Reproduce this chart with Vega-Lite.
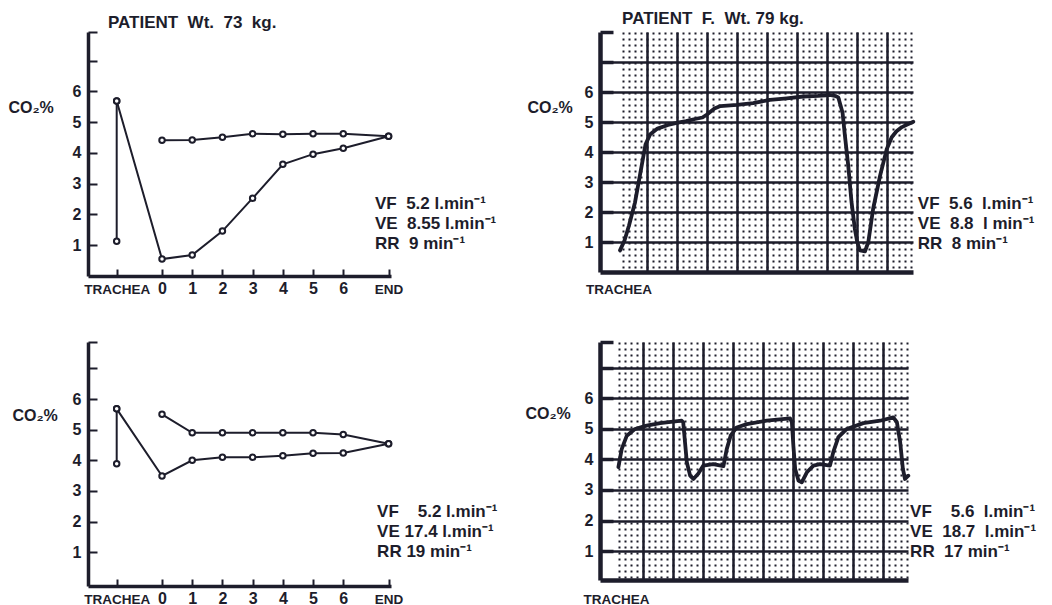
{
  "$schema": "https://vega.github.io/schema/vega-lite/v6.json",
  "background": "white",
  "padding": {"left": 8, "top": 9, "right": 0, "bottom": 0},
  "config": {
    "view": {"stroke": null},
    "font": "Liberation Sans",
    "axis": {"labelFont": "Liberation Sans", "labelFontWeight": "bold", "labelColor": "#1d1d2b", "domainColor": "#1d1d2b", "tickColor": "#1d1d2b", "gridColor": "#1d1d2b", "titleColor": "#1d1d2b", "titleFont": "Liberation Sans", "titleFontWeight": "bold", "labelOverlap": false},
    "text": {"font": "Liberation Sans", "fontWeight": "bold", "color": "#1d1d2b", "fontSize": 17}
  },
  "datasets": {
    "tl": [
      {"s": "trachea", "t": -1.5, "co2": 5.69},
      {"s": "trachea", "t": -1.5, "co2": 1.13},
      {"s": "lower", "t": -1.5, "co2": 5.69},
      {"s": "lower", "t": 0, "co2": 0.55},
      {"s": "lower", "t": 1, "co2": 0.68},
      {"s": "lower", "t": 2, "co2": 1.46},
      {"s": "lower", "t": 3, "co2": 2.53},
      {"s": "lower", "t": 4, "co2": 3.63},
      {"s": "lower", "t": 5, "co2": 3.96},
      {"s": "lower", "t": 6, "co2": 4.15},
      {"s": "lower", "t": 7.5, "co2": 4.54},
      {"s": "upper", "t": 0, "co2": 4.41},
      {"s": "upper", "t": 1, "co2": 4.42},
      {"s": "upper", "t": 2, "co2": 4.51},
      {"s": "upper", "t": 3, "co2": 4.62},
      {"s": "upper", "t": 4, "co2": 4.61},
      {"s": "upper", "t": 5, "co2": 4.62},
      {"s": "upper", "t": 6, "co2": 4.62},
      {"s": "upper", "t": 7.5, "co2": 4.54}
    ],
    "bl": [
      {"s": "trachea", "t": -1.5, "co2": 5.68},
      {"s": "trachea", "t": -1.5, "co2": 3.89},
      {"s": "lower", "t": -1.5, "co2": 5.68},
      {"s": "lower", "t": 0, "co2": 3.49},
      {"s": "lower", "t": 1, "co2": 4.0},
      {"s": "lower", "t": 2, "co2": 4.1},
      {"s": "lower", "t": 3, "co2": 4.1},
      {"s": "lower", "t": 4, "co2": 4.15},
      {"s": "lower", "t": 5, "co2": 4.23},
      {"s": "lower", "t": 6, "co2": 4.24},
      {"s": "lower", "t": 7.5, "co2": 4.54},
      {"s": "upper", "t": 0, "co2": 5.5},
      {"s": "upper", "t": 1, "co2": 4.9},
      {"s": "upper", "t": 2, "co2": 4.9},
      {"s": "upper", "t": 3, "co2": 4.9},
      {"s": "upper", "t": 4, "co2": 4.9},
      {"s": "upper", "t": 5, "co2": 4.9},
      {"s": "upper", "t": 6, "co2": 4.84},
      {"s": "upper", "t": 7.5, "co2": 4.54}
    ],
    "tr": [
      {"t": -0.9, "co2": 0.72}, {"t": -0.75, "co2": 1.05}, {"t": -0.6, "co2": 1.55}, {"t": -0.4, "co2": 2.32},
      {"t": -0.18, "co2": 3.53}, {"t": -0.05, "co2": 4.25}, {"t": 0.1, "co2": 4.58}, {"t": 0.35, "co2": 4.78},
      {"t": 0.7, "co2": 4.9}, {"t": 0.99, "co2": 4.97}, {"t": 1.3, "co2": 5.03}, {"t": 1.6, "co2": 5.1},
      {"t": 1.85, "co2": 5.15}, {"t": 2.0, "co2": 5.25}, {"t": 2.25, "co2": 5.45}, {"t": 2.45, "co2": 5.53},
      {"t": 3.0, "co2": 5.57}, {"t": 3.54, "co2": 5.63}, {"t": 4.1, "co2": 5.74}, {"t": 4.66, "co2": 5.79},
      {"t": 5.21, "co2": 5.85}, {"t": 5.7, "co2": 5.87}, {"t": 6.1, "co2": 5.9}, {"t": 6.3, "co2": 5.86},
      {"t": 6.38, "co2": 5.82}, {"t": 6.52, "co2": 5.32}, {"t": 6.6, "co2": 4.54}, {"t": 6.71, "co2": 3.55},
      {"t": 6.82, "co2": 2.33}, {"t": 6.93, "co2": 1.44}, {"t": 7.01, "co2": 1.0}, {"t": 7.1, "co2": 0.72},
      {"t": 7.27, "co2": 0.69}, {"t": 7.38, "co2": 1.0}, {"t": 7.54, "co2": 2.1}, {"t": 7.77, "co2": 3.2},
      {"t": 7.99, "co2": 4.08}, {"t": 8.16, "co2": 4.49}, {"t": 8.32, "co2": 4.69}, {"t": 8.5, "co2": 4.83},
      {"t": 8.66, "co2": 4.91}, {"t": 8.88, "co2": 5.01}
    ],
    "br": [
      {"t": -0.82, "co2": 3.75}, {"t": -0.71, "co2": 4.34}, {"t": -0.54, "co2": 4.78}, {"t": -0.27, "co2": 5.0},
      {"t": 0.12, "co2": 5.11}, {"t": 0.57, "co2": 5.19}, {"t": 1.29, "co2": 5.27}, {"t": 1.34, "co2": 5.22},
      {"t": 1.4, "co2": 4.56}, {"t": 1.46, "co2": 3.91}, {"t": 1.57, "co2": 3.47}, {"t": 1.68, "co2": 3.36},
      {"t": 1.84, "co2": 3.53}, {"t": 2.01, "co2": 3.8}, {"t": 2.34, "co2": 3.85}, {"t": 2.68, "co2": 3.78},
      {"t": 2.79, "co2": 4.34}, {"t": 2.92, "co2": 4.78}, {"t": 3.12, "co2": 5.05}, {"t": 3.46, "co2": 5.16},
      {"t": 4.12, "co2": 5.27}, {"t": 4.9, "co2": 5.35}, {"t": 4.96, "co2": 5.22}, {"t": 5.01, "co2": 4.45},
      {"t": 5.07, "co2": 3.69}, {"t": 5.18, "co2": 3.31}, {"t": 5.29, "co2": 3.25}, {"t": 5.46, "co2": 3.58},
      {"t": 5.68, "co2": 3.8}, {"t": 5.9, "co2": 3.85}, {"t": 6.23, "co2": 3.8}, {"t": 6.34, "co2": 4.24},
      {"t": 6.51, "co2": 4.73}, {"t": 6.79, "co2": 5.0}, {"t": 7.34, "co2": 5.19}, {"t": 7.9, "co2": 5.27},
      {"t": 8.34, "co2": 5.38}, {"t": 8.46, "co2": 5.22}, {"t": 8.57, "co2": 4.56}, {"t": 8.66, "co2": 3.69},
      {"t": 8.73, "co2": 3.36}, {"t": 8.84, "co2": 3.47}
    ]
  },
  "columns": 2,
  "spacing": {"row": 66, "column": 209},
  "bounds": "flush",
  "concat": [
    {
      "width": 303,
      "height": 244,
      "resolve": {"axis": {"x": "independent", "y": "independent"}},
      "layer": [
        {
          "data": {"name": "tl"},
          "mark": {"type": "line", "color": "#1d1d2b", "strokeWidth": 2, "point": {"filled": false, "fill": "white", "stroke": "#1d1d2b", "size": 30, "strokeWidth": 2}},
          "encoding": {
            "x": {"field": "t", "type": "quantitative", "scale": {"domain": [-2.45, 7.58], "nice": false, "zero": false},
              "axis": {"orient": "bottom", "values": [-1.5, 0, 1, 2, 3, 4, 5, 6, 7.5], "tickSize": -7, "tickWidth": 2, "domainWidth": 3.5, "grid": false, "labelOverlap": false,
                "labelExpr": "datum.value < -1 ? 'TRACHEA' : datum.value > 7 ? 'END' : datum.label",
                "labelFontSize": {"condition": {"test": "datum.value < -1 || datum.value > 7", "value": 13.5}, "value": 16},
                "labelBaseline": "alphabetic", "labelPadding": 24, "title": null}},
            "y": {"field": "co2", "type": "quantitative", "scale": {"domain": [0, 7.93], "nice": false},
              "axis": {"orient": "left", "values": [1, 2, 3, 4, 5, 6, 7, 7.93], "tickSize": -9, "tickWidth": 2, "domainWidth": 3.5, "grid": false, "labelOverlap": false,
                "labelExpr": "datum.value <= 6 ? datum.label : ''", "labelFontSize": 16, "labelPadding": 16,
                "title": "CO₂%", "titleAngle": 0, "titleAlign": "left", "titleBaseline": "middle", "titleX": -80, "titleY": 75, "titleFontSize": 16}},
            "detail": {"field": "s"}
          }
        },
        {
          "data": {"values": [{}]},
          "mark": {"type": "text", "align": "left", "baseline": "middle", "lineHeight": 20},
          "encoding": {
            "x": {"datum": 7.05, "type": "quantitative", "axis": {"orient": "bottom", "domain": false, "ticks": false, "labels": false, "grid": false, "title": null}},
            "y": {"datum": 2.33, "type": "quantitative", "axis": {"orient": "left", "domain": false, "ticks": false, "labels": false, "grid": false, "title": null}},
            "text": {"value": ["VF\u00a0\u00a05.2 l.min⁻¹", "VE\u00a0\u00a08.55 l.min⁻¹", "RR\u00a0\u00a09 min⁻¹"]}
          }
        },
        {
          "data": {"values": [{}]},
          "mark": {"type": "text", "align": "left", "baseline": "alphabetic"},
          "encoding": {
            "x": {"datum": -1.79, "type": "quantitative", "axis": {"orient": "bottom", "domain": false, "ticks": false, "labels": false, "grid": false, "title": null}},
            "y": {"datum": 8.06, "type": "quantitative", "axis": {"orient": "left", "domain": false, "ticks": false, "labels": false, "grid": false, "title": null}},
            "text": {"value": "PATIENT\u00a0\u00a0Wt.\u00a0\u00a073\u00a0\u00a0kg."}
          }
        }
      ]
    },
    {
      "width": 313,
      "height": 240,
      "resolve": {"axis": {"x": "independent", "y": "independent"}},
      "layer": [
        {
          "data": {"values": [{}]},
          "mark": {"type": "text", "align": "left", "baseline": "middle", "lineHeight": 20},
          "encoding": {
            "x": {"datum": 9.03, "type": "quantitative",
              "axis": {"orient": "bottom", "values": [-0.8, -0.6, -0.4, -0.2, 0, 0.2, 0.4, 0.6, 0.8, 1, 1.2, 1.4, 1.6, 1.8, 2, 2.2, 2.4, 2.6, 2.8, 3, 3.2, 3.4, 3.6, 3.8, 4, 4.2, 4.4, 4.6, 4.8, 5, 5.2, 5.4, 5.6, 5.8, 6, 6.2, 6.4, 6.6, 6.8, 7, 7.2, 7.4, 7.6, 7.8, 8, 8.2, 8.4, 8.6, 8.8],
                "grid": true, "gridDash": [2, 4], "gridWidth": 2, "domain": false, "ticks": false, "labels": false, "title": null}},
            "y": {"datum": 2.26, "type": "quantitative", "axis": {"orient": "left", "domain": false, "ticks": false, "labels": false, "grid": false, "title": null}},
            "text": {"value": ["VF\u00a0\u00a05.6\u00a0 l.min⁻¹", "VE\u00a0\u00a08.8\u00a0 l min⁻¹", "RR\u00a0\u00a08 min⁻¹"]}
          }
        },
        {
          "data": {"values": [{}]},
          "mark": {"type": "text", "align": "left", "baseline": "alphabetic"},
          "encoding": {
            "x": {"datum": -0.83, "type": "quantitative", "axis": {"orient": "bottom", "domain": false, "ticks": false, "labels": false, "grid": false, "title": null}},
            "y": {"datum": 8.27, "type": "quantitative", "axis": {"orient": "left", "domain": false, "ticks": false, "labels": false, "grid": false, "title": null}},
            "text": {"value": "PATIENT\u00a0\u00a0F.\u00a0\u00a0Wt. 79 kg."}
          }
        },
        {
          "data": {"name": "tr"},
          "mark": {"type": "line", "color": "#1d1d2b", "strokeWidth": 3.8, "strokeJoin": "round", "strokeCap": "round"},
          "encoding": {
            "x": {"field": "t", "type": "quantitative", "scale": {"domain": [-1.567, 8.87], "nice": false, "zero": false},
              "axis": {"orient": "bottom", "values": [-0.95, 0, 1, 2, 3, 4, 5, 6, 7, 8], "grid": true, "gridWidth": 2.5, "labelOverlap": false,
                "gridOpacity": {"condition": {"test": "datum.value < -0.5", "value": 0}, "value": 1},
                "ticks": false, "domainWidth": 4.5, "labelExpr": "datum.value < -0.5 ? 'TRACHEA' : ''",
                "labelFontSize": 13.5, "labelBaseline": "alphabetic", "labelPadding": 21, "title": null}},
            "y": {"field": "co2", "type": "quantitative", "scale": {"domain": [0, 8], "nice": false},
              "axis": {"orient": "left", "values": [1, 2, 3, 4, 5, 6, 7, 8], "grid": true, "gridWidth": 2.5, "labelOverlap": false,
                "gridOpacity": {"condition": {"test": "datum.value > 7.5", "value": 0}, "value": 1},
                "tickSize": -13, "tickWidth": 3.5, "domainWidth": 4.5,
                "labelExpr": "datum.value <= 6 ? datum.label : ''", "labelFontSize": 16, "labelPadding": 20,
                "title": "CO₂%", "titleAngle": 0, "titleAlign": "left", "titleBaseline": "middle", "titleX": -73, "titleY": 75, "titleFontSize": 16}}
          }
        }
      ]
    },
    {
      "width": 303,
      "height": 244,
      "resolve": {"axis": {"x": "independent", "y": "independent"}},
      "layer": [
        {
          "data": {"name": "bl"},
          "mark": {"type": "line", "color": "#1d1d2b", "strokeWidth": 2, "point": {"filled": false, "fill": "white", "stroke": "#1d1d2b", "size": 30, "strokeWidth": 2}},
          "encoding": {
            "x": {"field": "t", "type": "quantitative", "scale": {"domain": [-2.45, 7.58], "nice": false, "zero": false},
              "axis": {"orient": "bottom", "values": [-1.5, 0, 1, 2, 3, 4, 5, 6, 7.5], "tickSize": -7, "tickWidth": 2, "domainWidth": 3.5, "grid": false, "labelOverlap": false,
                "labelExpr": "datum.value < -1 ? 'TRACHEA' : datum.value > 7 ? 'END' : datum.label",
                "labelFontSize": {"condition": {"test": "datum.value < -1 || datum.value > 7", "value": 13.5}, "value": 16},
                "labelBaseline": "alphabetic", "labelPadding": 24, "title": null}},
            "y": {"field": "co2", "type": "quantitative", "scale": {"domain": [-0.1, 7.86], "nice": false, "zero": false},
              "axis": {"orient": "left", "values": [1, 2, 3, 4, 5, 6, 7, 7.86], "tickSize": -9, "tickWidth": 2, "domainWidth": 3.5, "grid": false, "labelOverlap": false,
                "labelExpr": "datum.value <= 6 ? datum.label : ''", "labelFontSize": 16, "labelPadding": 16,
                "title": "CO₂%", "titleAngle": 0, "titleAlign": "left", "titleBaseline": "middle", "titleX": -76, "titleY": 73, "titleFontSize": 16}},
            "detail": {"field": "s"}
          }
        },
        {
          "data": {"values": [{}]},
          "mark": {"type": "text", "align": "left", "baseline": "middle", "lineHeight": 20},
          "encoding": {
            "x": {"datum": 7.12, "type": "quantitative", "axis": {"orient": "bottom", "domain": false, "ticks": false, "labels": false, "grid": false, "title": null}},
            "y": {"datum": 2.31, "type": "quantitative", "axis": {"orient": "left", "domain": false, "ticks": false, "labels": false, "grid": false, "title": null}},
            "text": {"value": ["VF\u00a0\u00a0\u00a0\u00a05.2 l.min⁻¹", "VE\u00a017.4 l.min⁻¹", "RR\u00a019 min⁻¹"]}
          }
        }
      ]
    },
    {
      "width": 308,
      "height": 238,
      "resolve": {"axis": {"x": "independent", "y": "independent"}},
      "layer": [
        {
          "data": {"values": [{}]},
          "mark": {"type": "text", "align": "left", "baseline": "middle", "lineHeight": 20},
          "encoding": {
            "x": {"datum": 8.9, "type": "quantitative",
              "axis": {"orient": "bottom", "values": [-0.8, -0.6, -0.4, -0.2, 0, 0.2, 0.4, 0.6, 0.8, 1, 1.2, 1.4, 1.6, 1.8, 2, 2.2, 2.4, 2.6, 2.8, 3, 3.2, 3.4, 3.6, 3.8, 4, 4.2, 4.4, 4.6, 4.8, 5, 5.2, 5.4, 5.6, 5.8, 6, 6.2, 6.4, 6.6, 6.8, 7, 7.2, 7.4, 7.6, 7.8, 8, 8.2, 8.4, 8.6, 8.8],
                "grid": true, "gridDash": [2, 4], "gridWidth": 2, "domain": false, "ticks": false, "labels": false, "title": null}},
            "y": {"datum": 2.28, "type": "quantitative", "axis": {"orient": "left", "domain": false, "ticks": false, "labels": false, "grid": false, "title": null}},
            "text": {"value": ["VF\u00a0\u00a0\u00a0\u00a05.6\u00a0\u00a0l.min⁻¹", "VE\u00a0\u00a018.7\u00a0\u00a0l.min⁻¹", "RR\u00a0\u00a017 min⁻¹"]}
          }
        },
        {
          "data": {"name": "br"},
          "mark": {"type": "line", "color": "#1d1d2b", "strokeWidth": 3.8, "strokeJoin": "round", "strokeCap": "round"},
          "encoding": {
            "x": {"field": "t", "type": "quantitative", "scale": {"domain": [-1.433, 8.83], "nice": false, "zero": false},
              "axis": {"orient": "bottom", "values": [-0.9, 0, 1, 2, 3, 4, 5, 6, 7, 8], "grid": true, "gridWidth": 2.5, "labelOverlap": false,
                "gridOpacity": {"condition": {"test": "datum.value < -0.5", "value": 0}, "value": 1},
                "ticks": false, "domainWidth": 4.5, "labelExpr": "datum.value < -0.5 ? 'TRACHEA' : ''",
                "labelFontSize": 13.5, "labelBaseline": "alphabetic", "labelPadding": 23, "title": null}},
            "y": {"field": "co2", "type": "quantitative", "scale": {"domain": [0.05, 7.85], "nice": false, "zero": false},
              "axis": {"orient": "left", "values": [1, 2, 3, 4, 5, 6, 7, 7.85], "grid": true, "gridWidth": 2.5, "labelOverlap": false,
                "gridOpacity": {"condition": {"test": "datum.value > 7.5", "value": 0}, "value": 1},
                "tickSize": -13, "tickWidth": 3.5, "domainWidth": 4.5,
                "labelExpr": "datum.value <= 6 ? datum.label : ''", "labelFontSize": 16, "labelPadding": 20,
                "title": "CO₂%", "titleAngle": 0, "titleAlign": "left", "titleBaseline": "middle", "titleX": -75, "titleY": 71, "titleFontSize": 16}}
          }
        }
      ]
    }
  ]
}
